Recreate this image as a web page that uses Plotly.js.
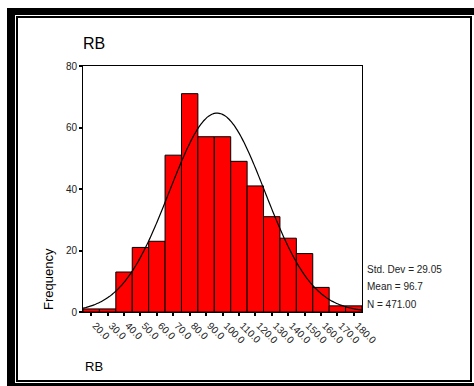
<!DOCTYPE html>
<html>
<head>
<meta charset="utf-8">
<script src="https://cdn.plot.ly/plotly-3.0.1.min.js"></script>
<style>
  html, body { margin: 0; padding: 0; background: #fff; width: 474px; height: 386px; overflow: hidden; }
  #outer { position: absolute; left: 7px; top: 8px; width: 480px; height: 378px; background: #000; }
  #gap { position: absolute; left: 15px; top: 15px; width: 459px; height: 368px; background: #fff; }
  #inner { position: absolute; left: 16px; top: 16px; width: 452px; height: 362px; border: 2px solid #000; background: #fff; }
  #chart { position: absolute; left: 0; top: 0; width: 474px; height: 386px; }
</style>
</head>
<body>
<div id="outer"></div>
<div id="gap"></div>
<div id="inner"></div>
<div id="chart"></div>
<script>
// Histogram bins (centres) and frequencies
const binCenters = [20, 30, 40, 50, 60, 70, 80, 90, 100, 110, 120, 130, 140, 150, 160, 170, 180];
const frequencies = [1, 1, 13, 21, 23, 51, 71, 57, 57, 49, 41, 31, 24, 19, 8, 2, 2];
const tickLabels = ["20.0","30.0","40.0","50.0","60.0","70.0","80.0","90.0","100.0","110.0","120.0","130.0","140.0","150.0","160.0","170.0","180.0"];
const binWidth = 10;

// Summary statistics shown on the chart
const statStdDev = 29.05;
const statMean = 96.7;
const statN = 471;

// Fitted normal curve from the stated statistics (as the original does)
const curveX = [];
const curveY = [];
for (let x = 15; x <= 185; x += 1) {
  const z = (x - statMean) / statStdDev;
  curveX.push(x);
  curveY.push(statN * binWidth * Math.exp(-0.5 * z * z) / (statStdDev * Math.sqrt(2 * Math.PI)));
}

const font = "Liberation Sans, Arial, sans-serif";

const traces = [
  {
    type: "bar",
    x: binCenters,
    y: frequencies,
    width: binWidth,
    marker: { color: "#ff0000", line: { color: "#000", width: 1 } },
    hoverinfo: "x+y"
  },
  {
    type: "scatter",
    mode: "lines",
    x: curveX,
    y: curveY,
    line: { color: "#000", width: 1.2, shape: "spline" },
    hoverinfo: "skip"
  }
];

const layout = {
  width: 474,
  height: 386,
  margin: { l: 83, r: 112, t: 66, b: 74 },
  paper_bgcolor: "rgba(0,0,0,0)",
  plot_bgcolor: "#fff",
  showlegend: false,
  bargap: 0,
  font: { family: font, color: "#222", size: 10 },
  title: {
    text: "RB",
    font: { family: font, size: 16, color: "#000" },
    x: 0, xanchor: "left", xref: "paper",
    y: 1 - 43 / 386, yanchor: "middle", yref: "container"
  },
  xaxis: {
    range: [15, 185],
    tickvals: binCenters,
    ticktext: tickLabels,
    tickangle: 45,
    ticklabelshift: 4,
    ticks: "outside",
    ticklen: 3,
    tickwidth: 2,
    tickcolor: "#000",
    showline: true,
    linecolor: "#000",
    linewidth: 1,
    mirror: true,
    showgrid: false,
    zeroline: false,
    tickfont: { family: font, size: 10, color: "#222" }
  },
  yaxis: {
    range: [0, 80],
    tickvals: [0, 20, 40, 60, 80],
    ticks: "outside",
    ticklen: 3,
    tickwidth: 2,
    tickcolor: "#000",
    showline: true,
    linecolor: "#000",
    linewidth: 1,
    mirror: true,
    showgrid: false,
    zeroline: false,
    tickfont: { family: font, size: 10, color: "#222" }
  },
  annotations: [
    { text: "Frequency", xref: "paper", yref: "paper", x: 0, y: 0, xanchor: "center", yanchor: "bottom",
      xshift: -35, textangle: -90, showarrow: false, font: { family: font, size: 13, color: "#000" } },
    { text: "RB", xref: "paper", yref: "paper", x: 0, y: 0, xanchor: "left", yanchor: "middle",
      yshift: -54, showarrow: false, font: { family: font, size: 13, color: "#000" } },
    { text: "Std. Dev = " + statStdDev.toFixed(2), xref: "paper", yref: "paper", x: 1, y: 0, xanchor: "left", yanchor: "middle",
      xshift: 3, yshift: 43, showarrow: false, font: { family: font, size: 10, color: "#222" } },
    { text: "Mean = " + statMean.toFixed(1), xref: "paper", yref: "paper", x: 1, y: 0, xanchor: "left", yanchor: "middle",
      xshift: 3, yshift: 26, showarrow: false, font: { family: font, size: 10, color: "#222" } },
    { text: "N = " + statN.toFixed(2), xref: "paper", yref: "paper", x: 1, y: 0, xanchor: "left", yanchor: "middle",
      xshift: 3, yshift: 8, showarrow: false, font: { family: font, size: 10, color: "#222" } }
  ]
};

Plotly.newPlot("chart", traces, layout, { displayModeBar: false, staticPlot: true });
</script>
</body>
</html>
